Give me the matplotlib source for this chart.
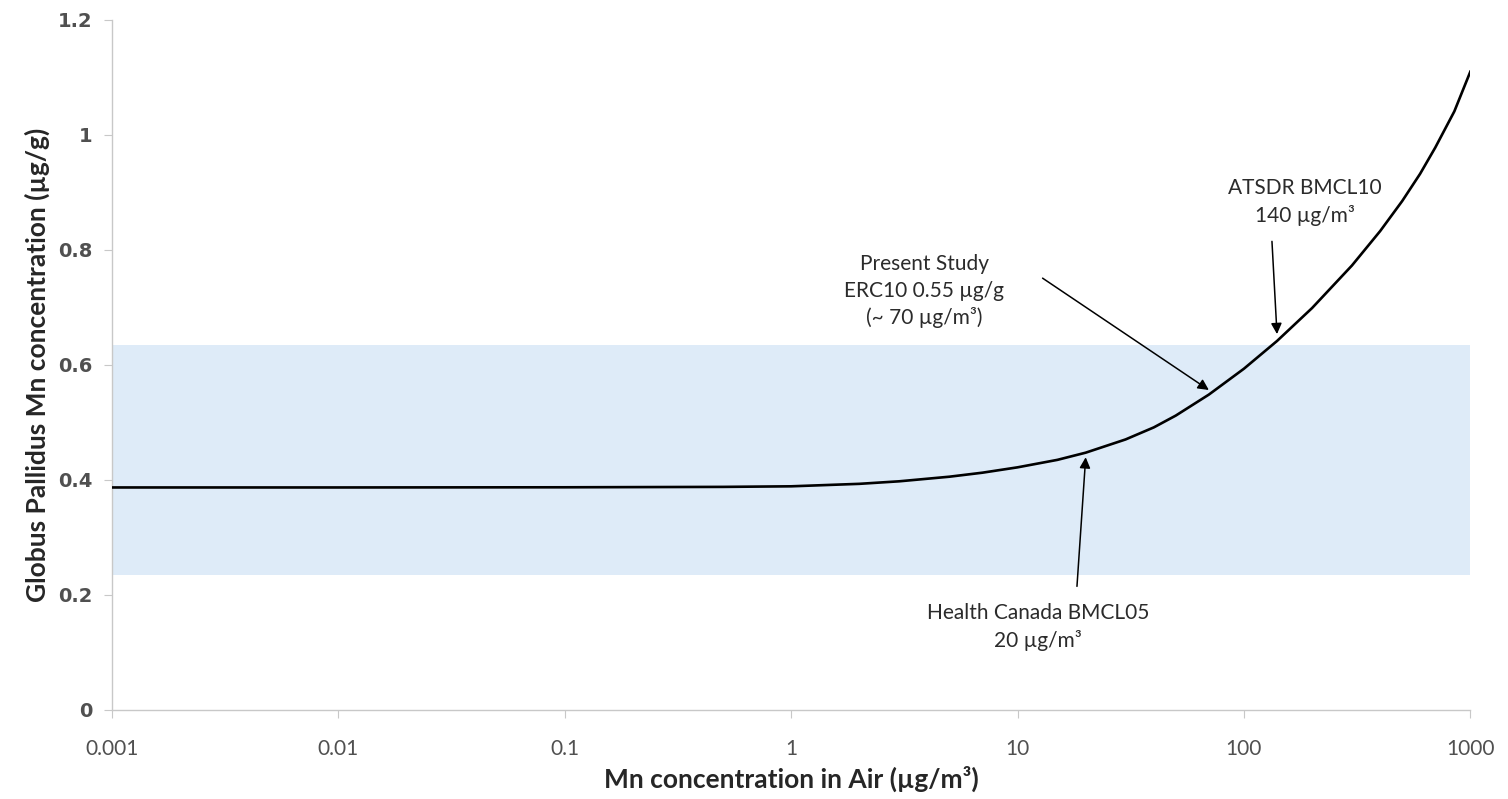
import numpy as np
import matplotlib.pyplot as plt

plt.rcParams['font.family'] = ['Lato', 'DejaVu Sans']

# Mn in air (µg/m³) and the resulting globus pallidus Mn (µg/g)
air_mn = [0.001, 0.01, 0.1, 0.5, 1, 2, 3, 5, 7, 10, 15, 20, 30, 40, 50, 70,
          100, 140, 200, 300, 400, 500, 600, 700, 850, 1000]
gp_mn = [0.387, 0.387, 0.3873, 0.388, 0.389, 0.3933, 0.3977, 0.4057, 0.4127,
         0.422, 0.435, 0.4475, 0.4705, 0.4915, 0.512, 0.5485, 0.5935, 0.6417,
         0.699, 0.773, 0.833, 0.885, 0.9324, 0.978, 1.041, 1.110]

# normal range of globus pallidus Mn
band_low, band_high = 0.235, 0.635

# reference exposure levels marked on the curve
ref_names = ["Health Canada BMCL05\n20 µg/m³",
             "Present Study\nERC10 0.55 µg/g\n(~ 70 µg/m³)",
             "ATSDR BMCL10\n140 µg/m³"]
ref_air = [20, 70, 140]

x_ticks = [0.001, 0.01, 0.1, 1, 10, 100, 1000]
x_tick_labels = ["0.001", "0.01", "0.1", "1", "10", "100", "1000"]
y_ticks = [0, 0.2, 0.4, 0.6, 0.8, 1.0, 1.2]
y_tick_labels = ["0", "0.2", "0.4", "0.6", "0.8", "1", "1.2"]

fig = plt.figure(figsize=(15.08, 7.99), dpi=100)
ax = fig.add_axes([0.0743, 0.1114, 0.9007, 0.8636])

ax.axhspan(band_low, band_high, color='#DEEBF8', lw=0, zorder=0)
ax.plot(air_mn, gp_mn, color='black', lw=1.9, solid_joinstyle='round', zorder=3)

ax.set_xscale('log')
ax.set_xlim(0.001, 1000)
ax.set_ylim(0, 1.2)
ax.set_xticks(x_ticks)
ax.set_xticklabels(x_tick_labels)
ax.minorticks_off()
ax.set_yticks(y_ticks)
ax.set_yticklabels(y_tick_labels, fontfamily='DejaVu Sans', fontweight='bold')

for side in ('top', 'right'):
    ax.spines[side].set_visible(False)
for side in ('left', 'bottom'):
    ax.spines[side].set_color('#C8C8C8')
    ax.spines[side].set_linewidth(1.0)

ax.tick_params(axis='x', colors='#C8C8C8', labelcolor='#505050',
               labelsize=15, length=6, pad=15)
ax.tick_params(axis='y', colors='#C8C8C8', labelcolor='#505050',
               labelsize=14, length=6, pad=8)

ax.set_xlabel("Mn concentration in Air (µg/m³)", fontsize=19,
              fontweight='bold', color='#262626', labelpad=5)
ax.set_ylabel("Globus Pallidus Mn concentration (µg/g)", fontsize=19,
              fontweight='bold', color='#262626', labelpad=6)


def curve_at(x):
    return np.interp(np.log10(x), np.log10(air_mn), gp_mn)


# text position, arrow tail, arrow tip offset for each reference level
text_pos = [(12.3, 0.144), (3.87, 0.728), (186, 0.883)]
tail_pos = [(18.3, 0.215), (12.9, 0.751), (133, 0.815)]
tip_dy = [-0.008, 0.008, 0.012]

for name, xr, tp, tl, dy in zip(ref_names, ref_air, text_pos, tail_pos, tip_dy):
    ax.text(tp[0], tp[1], name, ha='center', va='center', fontsize=15,
            color='#2B2B2B', linespacing=1.4, zorder=4)
    ax.annotate('', xy=(xr, curve_at(xr) + dy), xytext=tl,
                arrowprops=dict(arrowstyle='-|>', color='black', lw=1.1,
                                mutation_scale=16, shrinkA=0, shrinkB=0),
                zorder=4)

fig.savefig("out.png", dpi=100)
